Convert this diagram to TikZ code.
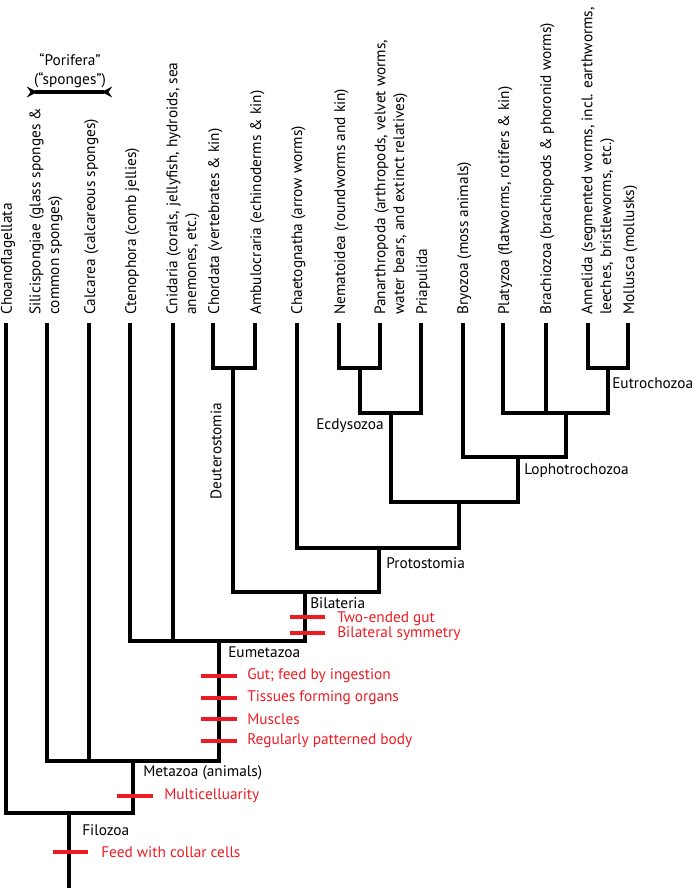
\documentclass[tikz,border=0pt]{standalone}
\usepackage{fontspec}
\setmainfont{PT Sans}
\usetikzlibrary{arrows.meta}
\definecolor{trait}{RGB}{237,28,36}
\begin{document}
\begin{tikzpicture}[x=0.75pt,y=-0.75pt,
  branch/.style={line width=3pt, line join=miter},
  tickmark/.style={draw=trait, line width=3pt},
  lab/.style={font=\fontsize{11.5}{14}\selectfont, inner sep=0pt},
  tiplab/.style={lab, rotate=90, anchor=base west, align=left},
  clade/.style={lab, anchor=west},
  traitlab/.style={lab, anchor=west, text=trait}]
\useasboundingbox (0,0) rectangle (697,888);
% tips
\foreach \n/\x in {choa/6,sili/47,calc/89,cten/130,cnid/173,chor/213,ambu/255,chae/297,nema/339,pana/380,pria/421,bryo/463,plat/503,brac/546,anne/588,moll/628}
  \coordinate (\n) at (\x,323);
% internal nodes
\coordinate (deut) at (233,368);
\coordinate (nepa) at (360,368);
\coordinate (eutr) at (608,368);
\coordinate (ecdy) at (391,413);
\coordinate (pbe) at (566,413);
\coordinate (loph) at (518,457);
\coordinate (ecloph) at (459,502);
\coordinate (prot) at (379,548);
\coordinate (bila) at (305,592);
\coordinate (eume) at (219,641);
\coordinate (meta) at (133,761);
\coordinate (filo) at (69,813);
\coordinate (root) at (69,888);
% branches
\draw[branch] (deut) -| (chor) (deut) -| (ambu);
\draw[branch] (nepa) -| (nema) (nepa) -| (pana);
\draw[branch] (eutr) -| (anne) (eutr) -| (moll);
\draw[branch] (ecdy) -| (nepa) (ecdy) -| (pria);
\draw[branch] (pbe) -| (plat) (pbe) -| (brac) (pbe) -| (eutr);
\draw[branch] (loph) -| (bryo) (loph) -| (pbe);
\draw[branch] (ecloph) -| (ecdy) (ecloph) -| (loph);
\draw[branch] (prot) -| (chae) (prot) -| (ecloph);
\draw[branch] (bila) -| (deut) (bila) -| (prot);
\draw[branch] (eume) -| (cten) (eume) -| (cnid) (eume) -| (bila);
\draw[branch] (meta) -| (sili) (meta) -| (calc) (meta) -| (eume);
\draw[branch] (filo) -| (choa) (filo) -| (meta);
\draw[branch] (root) -- (filo);
% tip labels (base = baseline of the last line)
\node[tiplab] (lchoa) at (12,315) {Choanoflagellata};
\node[tiplab] (lsili) at (59,315) {Silicispongiae (glass sponges \&\\common sponges)};
\node[tiplab] (lcalc) at (95,315) {Calcarea (calcareous sponges)};
\node[tiplab] (lcten) at (136,315) {Ctenophora (comb jellies)};
\node[tiplab] (lcnid) at (196,315) {Cnidaria (corals, jellyfish, hydroids, sea\\anemones, etc.)};
\node[tiplab] (lchor) at (219,315) {Chordata (vertebrates \& kin)};
\node[tiplab] (lambu) at (261,315) {Ambulocraria (echinoderms \& kin)};
\node[tiplab] (lchae) at (302,315) {Chaetognatha (arrow worms)};
\node[tiplab] (lnema) at (345,315) {Nematoidea (roundworms and kin)};
\node[tiplab] (lpana) at (404,315) {Panarthropoda (arthropods, velvet worms,\\water bears, and extinct relatives)};
\node[tiplab] (lpria) at (427,315) {Priapulida};
\node[tiplab] (lbryo) at (468,315) {Bryozoa (moss animals)};
\node[tiplab] (lplat) at (509,315) {Platyzoa (flatworms, rotifers \& kin)};
\node[tiplab] (lbrac) at (551,315) {Brachiozoa (brachiopods \& phoronid worms)};
\node[tiplab] (lanne) at (611,315) {Annelida (segmented worms, incl. earthworms,\\leeches, bristleworms, etc.)};
\node[tiplab] (lmoll) at (634,315) {Mollusca (mollusks)};
% Porifera bracket
\coordinate (porL) at (27,92);
\coordinate (porR) at (112,92);
\draw[line width=2.6pt, {Stealth[reversed,length=8pt,width=8pt]}-{Stealth[reversed,length=8pt,width=8pt]}] (porL) -- (porR);
\node[lab, align=center] (lpor) at (70,71) {“Porifera”\\(“sponges”)};
% clade labels
\node[lab, rotate=90] (ldeut) at (216,451) {Deuterostomia};
\node[clade] (lecdy) at (316,426) {Ecdysozoa};
\node[clade] (leutr) at (612,383) {Eutrochozoa};
\node[clade] (lloph) at (524,471) {Lophotrochozoa};
\node[clade] (lprot) at (386,563) {Protostomia};
\node[clade] (lbila) at (310,603) {Bilateria};
\node[clade] (leume) at (228,652) {Eumetazoa};
\node[clade] (lmeta) at (143,773) {Metazoa (animals)};
\node[clade] (lfilo) at (82,830) {Filozoa};
% traits
\draw[tickmark] (290,617) -- (325,617);
\draw[tickmark] (290,633) -- (325,633);
\node[traitlab] at (337,619) {Two-ended gut};
\node[traitlab] at (337,634) {Bilateral symmetry};
\draw[tickmark] (201,676) -- (237,676);
\draw[tickmark] (201,698) -- (237,698);
\draw[tickmark] (201,719) -- (237,719);
\draw[tickmark] (201,741) -- (237,741);
\node[traitlab] at (247,676) {Gut; feed by ingestion};
\node[traitlab] at (247,698) {Tissues forming organs};
\node[traitlab] at (247,719) {Muscles};
\node[traitlab] at (247,741) {Regularly patterned body};
\draw[tickmark] (117,796) -- (153,796);
\node[traitlab] at (164,796) {Multicelluarity};
\draw[tickmark] (53,852) -- (88,852);
\node[traitlab] at (101,852) {Feed with collar cells};
\end{tikzpicture}
\end{document}
